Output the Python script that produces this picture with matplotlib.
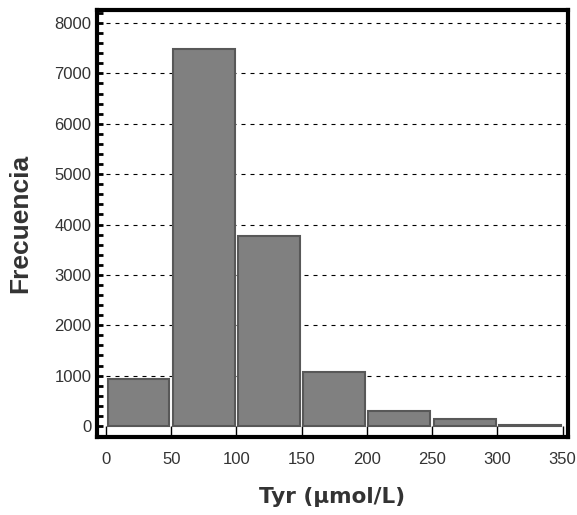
import numpy as np
import matplotlib
matplotlib.use("Agg")
import matplotlib.pyplot as plt
import matplotlib.ticker as ticker

# histogram bins (Tyr, umol/L) and counts
bin_left = [0, 50, 100, 150, 200, 250, 300]
counts = [930, 7490, 3770, 1070, 290, 145, 25]
bin_width = 50
x_ticks = [0, 50, 100, 150, 200, 250, 300, 350]
y_ticks = [0, 1000, 2000, 3000, 4000, 5000, 6000, 7000, 8000]

plt.rcParams['font.family'] = ['Liberation Sans', 'DejaVu Sans']

fig = plt.figure(figsize=(5.77, 5.15), dpi=100)
ax = fig.add_axes([0.168, 0.1515, 0.816, 0.829])

# bars with a small white gap between neighbours
ax.bar(np.array(bin_left) + 1.2, counts, width=bin_width - 2.6, align='edge',
       color='#808080', edgecolor='#585858', linewidth=1.5, zorder=3)

ax.set_xlim(-7, 354)
ax.set_ylim(-218, 8258)

ax.set_xticks(x_ticks)
ax.set_yticks(y_ticks)
ax.yaxis.set_minor_locator(ticker.MultipleLocator(200))
ax.tick_params(axis='x', direction='in', length=8, width=1, pad=11,
               labelsize=12, labelcolor='#333333')
ax.tick_params(axis='y', which='major', direction='in', length=4, width=2,
               pad=4, labelsize=12, labelcolor='#333333')
ax.tick_params(axis='y', which='minor', direction='in', length=4, width=2)

for g in y_ticks[1:]:
    ax.axhline(g, color='black', linewidth=0.8, linestyle=(0, (3.6, 4.5)),
               zorder=1)

for s in ax.spines.values():
    s.set_linewidth(3)
    s.set_color('black')

ax.set_ylabel('Frecuencia', fontsize=19, fontweight='bold', color='#333333')
ax.yaxis.set_label_coords(-0.138, 0.5)
ax.set_xlabel('Tyr (µmol/L)', fontsize=15.5, fontweight='bold', color='#333333',
              family='DejaVu Sans', labelpad=14)

fig.savefig('out.png', dpi=100)
plt.close('all')
